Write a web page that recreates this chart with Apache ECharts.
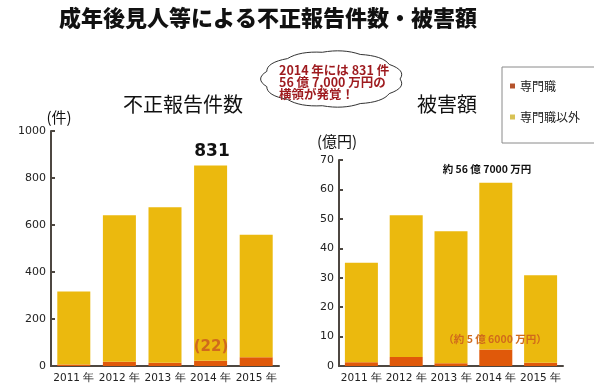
<!DOCTYPE html>
<html>
<head>
<meta charset="utf-8">
<script src="https://cdn.jsdelivr.net/npm/echarts@6/dist/echarts.min.js"></script>
<style>html,body{margin:0;padding:0;background:#fff;}#c{width:594px;height:384px;}</style>
</head>
<body>
<div id="c"></div>
<script>
const categories = ['2011 年', '2012 年', '2013 年', '2014 年', '2015 年'];
const countPro = [6, 18, 14, 22, 37];
const countOther = [311, 624, 662, 831, 521];
const damagePro = [1.3, 3.1, 0.9, 5.6, 1.1];
const damageOther = [33.8, 48.1, 44.9, 56.7, 29.7];
const countTicks = [0, 200, 400, 600, 800, 1000];
const damageTicks = [0, 10, 20, 30, 40, 50, 60, 70];

const YELLOW = '#EBB90E';
const ORANGE = '#E0590A';
const JP = '"Noto Sans CJK JP", sans-serif';
const NUM = '"DejaVu Sans", Verdana, sans-serif';

function cloudPoints(cx, cy, rx, ry, n) {
  const pts = [];
  const base = [];
  for (let i = 0; i <= n; i++) {
    const a = (i / n) * Math.PI * 2;
    base.push([cx + rx * Math.cos(a), cy + ry * Math.sin(a)]);
  }
  for (let i = 0; i < n; i++) {
    const am = ((i + 0.5) / n) * Math.PI * 2;
    const k = 1.14;
    const q = [cx + rx * k * Math.cos(am), cy + ry * k * Math.sin(am)];
    const p0 = base[i], p1 = base[i + 1];
    for (let s = 0; s < 8; s++) {
      const t = s / 8;
      const u = 1 - t;
      pts.push([u * u * p0[0] + 2 * u * t * q[0] + t * t * p1[0], u * u * p0[1] + 2 * u * t * q[1] + t * t * p1[1]]);
    }
  }
  return pts;
}

const chart = echarts.init(document.getElementById('c'));
const axisLineStyle = { color: '#4d4741', width: 2 };

function yAxis(grid, max, interval) {
  return {
    gridIndex: grid, type: 'value', min: 0, max: max, interval: interval,
    axisLine: { show: true, lineStyle: axisLineStyle },
    axisTick: { show: true, inside: true, length: 4, lineStyle: axisLineStyle },
    splitLine: { show: false },
    axisLabel: { color: '#222', fontFamily: NUM, fontSize: 11, margin: 5, formatter: function (v) { return String(v); } }
  };
}
function xAxis(grid) {
  return {
    gridIndex: grid, type: 'category', data: categories,
    axisLine: { show: true, lineStyle: axisLineStyle },
    axisTick: { show: false },
    axisLabel: { color: '#222', fontFamily: NUM, fontSize: 10.5, margin: 7, interval: 0 }
  };
}

function txt(x, y, text, font, fill, align) {
  return { type: 'text', x: x, y: y, z: 100, style: { text: text, font: font, fill: fill, align: align || 'center', verticalAlign: 'middle' } };
}

chart.setOption({
  animation: false,
  backgroundColor: '#fff',
  grid: [
    { left: 51, top: 131, width: 228, height: 235 },
    { left: 339, top: 160, width: 224, height: 206 }
  ],
  xAxis: [xAxis(0), xAxis(1)],
  yAxis: [yAxis(0, countTicks[countTicks.length - 1], 200), yAxis(1, damageTicks[damageTicks.length - 1], 10)],
  legend: {
    orient: 'vertical', left: 502, top: 67,
    padding: [13, 40, 20, 8], itemGap: 19,
    itemWidth: 5, itemHeight: 5, icon: 'rect',
    borderColor: '#8a8a8a', borderWidth: 1,
    textStyle: { fontFamily: JP, fontSize: 12, color: '#222' },
    data: [
      { name: '専門職', itemStyle: { color: '#B5532C' } },
      { name: '専門職以外', itemStyle: { color: '#D8C255' } }
    ]
  },
  series: [
    { name: '専門職', type: 'bar', stack: 'a', xAxisIndex: 0, yAxisIndex: 0, data: countPro, barWidth: 33, itemStyle: { color: ORANGE } },
    { name: '専門職以外', type: 'bar', stack: 'a', xAxisIndex: 0, yAxisIndex: 0, data: countOther, barWidth: 33, itemStyle: { color: YELLOW } },
    { name: '専門職', type: 'bar', stack: 'b', xAxisIndex: 1, yAxisIndex: 1, data: damagePro, barWidth: 33, itemStyle: { color: ORANGE } },
    { name: '専門職以外', type: 'bar', stack: 'b', xAxisIndex: 1, yAxisIndex: 1, data: damageOther, barWidth: 33, itemStyle: { color: YELLOW } }
  ],
  graphic: [
    txt(268, 18, '成年後見人等による不正報告件数・被害額', '900 22px ' + JP, '#111'),
    txt(183, 104, '不正報告件数', '20px ' + JP, '#111'),
    txt(447, 104, '被害額', '20px ' + JP, '#111'),
    txt(59, 117, '(件)', '15px ' + JP, '#111'),
    txt(337, 141, '(億円)', '15px ' + JP, '#111'),
    txt(212, 152, '831', 'bold 17px ' + NUM, '#111'),
    txt(211, 347, '(22)', 'bold 15px ' + NUM, '#D06A1C'),
    txt(487, 169, '約 56 億 7000 万円', 'bold 10.5px ' + JP, '#111'),
    txt(495, 339, '（約 5 億 6000 万円）', 'bold 10.5px ' + JP, '#D06A1C'),
    { type: 'polygon', z: 99, shape: { points: cloudPoints(332, 79, 68, 27, 11) }, style: { fill: '#fff', stroke: '#333', lineWidth: 1 } },
    txt(279, 70, '2014 年には 831 件', 'bold 12.5px ' + JP, '#9E1A1E', 'left'),
    txt(279, 82, '56 億 7,000 万円の', 'bold 12.5px ' + JP, '#9E1A1E', 'left'),
    txt(279, 94, '横領が発覚！', 'bold 12.5px ' + JP, '#9E1A1E', 'left')
  ]
});
</script>
</body>
</html>
